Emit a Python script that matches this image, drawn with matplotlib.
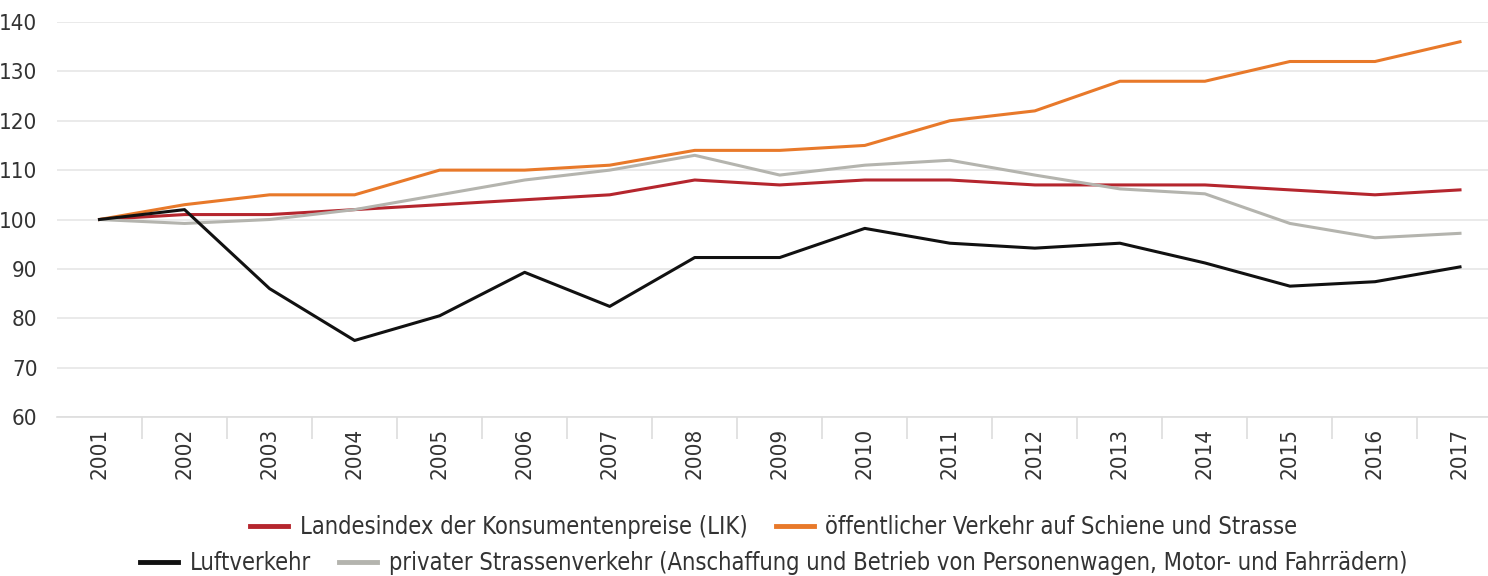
import numpy as np
import matplotlib.pyplot as plt

years = ["2001", "2002", "2003", "2004", "2005", "2006", "2007", "2008", "2009",
         "2010", "2011", "2012", "2013", "2014", "2015", "2016", "2017"]

lik = [100, 101, 101, 102, 103, 104, 105, 108, 107, 108, 108, 107, 107, 107, 106, 105, 106]
oev = [100, 103, 105, 105, 110, 110, 111, 114, 114, 115, 120, 122, 128, 128, 132, 132, 136]
luft = [100, 102, 86, 75.5, 80.5, 89.3, 82.4, 92.3, 92.3, 98.2, 95.2, 94.2, 95.2, 91.2, 86.5, 87.4, 90.4]
privat = [100, 99.2, 100, 102, 105, 108, 110, 113, 109, 111, 112, 109, 106.2, 105.2, 99.2, 96.3, 97.2]

labels = ["Landesindex der Konsumentenpreise (LIK)",
          "öffentlicher Verkehr auf Schiene und Strasse",
          "Luftverkehr",
          "privater Strassenverkehr (Anschaffung und Betrieb von Personenwagen, Motor- und Fahrrädern)"]

plt.rcParams['font.family'] = ['DejaVu Sans']
plt.rcParams['font.stretch'] = 'condensed'

fig = plt.figure(figsize=(14.88, 5.76), dpi=100)
ax = fig.add_axes([57 / 1488, 1 - 417 / 576, 1 - 57 / 1488, (417 - 22) / 576])

x = np.arange(len(years))
l1, = ax.plot(x, lik, color="#b5262e", lw=2.2, label=labels[0])
l2, = ax.plot(x, oev, color="#e8792a", lw=2.2, label=labels[1])
l4, = ax.plot(x, privat, color="#b4b4ae", lw=2.2, label=labels[3])
l3, = ax.plot(x, luft, color="#111111", lw=2.2, label=labels[2])

ax.set_xlim(-0.5, (1488 - 100) / 85)
ax.set_ylim(60, 140)
ax.set_yticks(range(60, 141, 10))
ax.yaxis.grid(True, color="#e6e6e6", lw=1.2)
ax.set_axisbelow(True)

ax.set_xticks(x)
ax.set_xticklabels(years, rotation=90, fontsize=16, color="#333333")
ax.set_xticks(x[:-1] + 0.5, minor=True)
ax.tick_params(axis="x", which="major", length=0, pad=8)
ax.tick_params(axis="x", which="minor", length=16, color="#dddddd", width=1.2)
ax.tick_params(axis="y", length=0, labelsize=16, labelcolor="#333333", pad=14)

for s in ["top", "right", "left"]:
    ax.spines[s].set_visible(False)
ax.spines["bottom"].set_color("#dddddd")
ax.spines["bottom"].set_linewidth(1.2)

leg1 = fig.legend(handles=[l1, l2], loc="center", bbox_to_anchor=(0.52, 1 - 527 / 576),
                  ncol=2, frameon=False, fontsize=17, handlelength=1.6, handletextpad=0.5,
                  columnspacing=1.2)
for t in leg1.get_texts():
    t.set_color("#333333")
leg2 = fig.legend(handles=[l3, l4], loc="center", bbox_to_anchor=(0.52, 1 - 563 / 576),
                  ncol=2, frameon=False, fontsize=17, handlelength=1.6, handletextpad=0.5,
                  columnspacing=1.2)
for t in leg2.get_texts():
    t.set_color("#333333")
for h in leg1.legend_handles + leg2.legend_handles:
    h.set_linewidth(3.5)

fig.savefig("out.png", dpi=100)
